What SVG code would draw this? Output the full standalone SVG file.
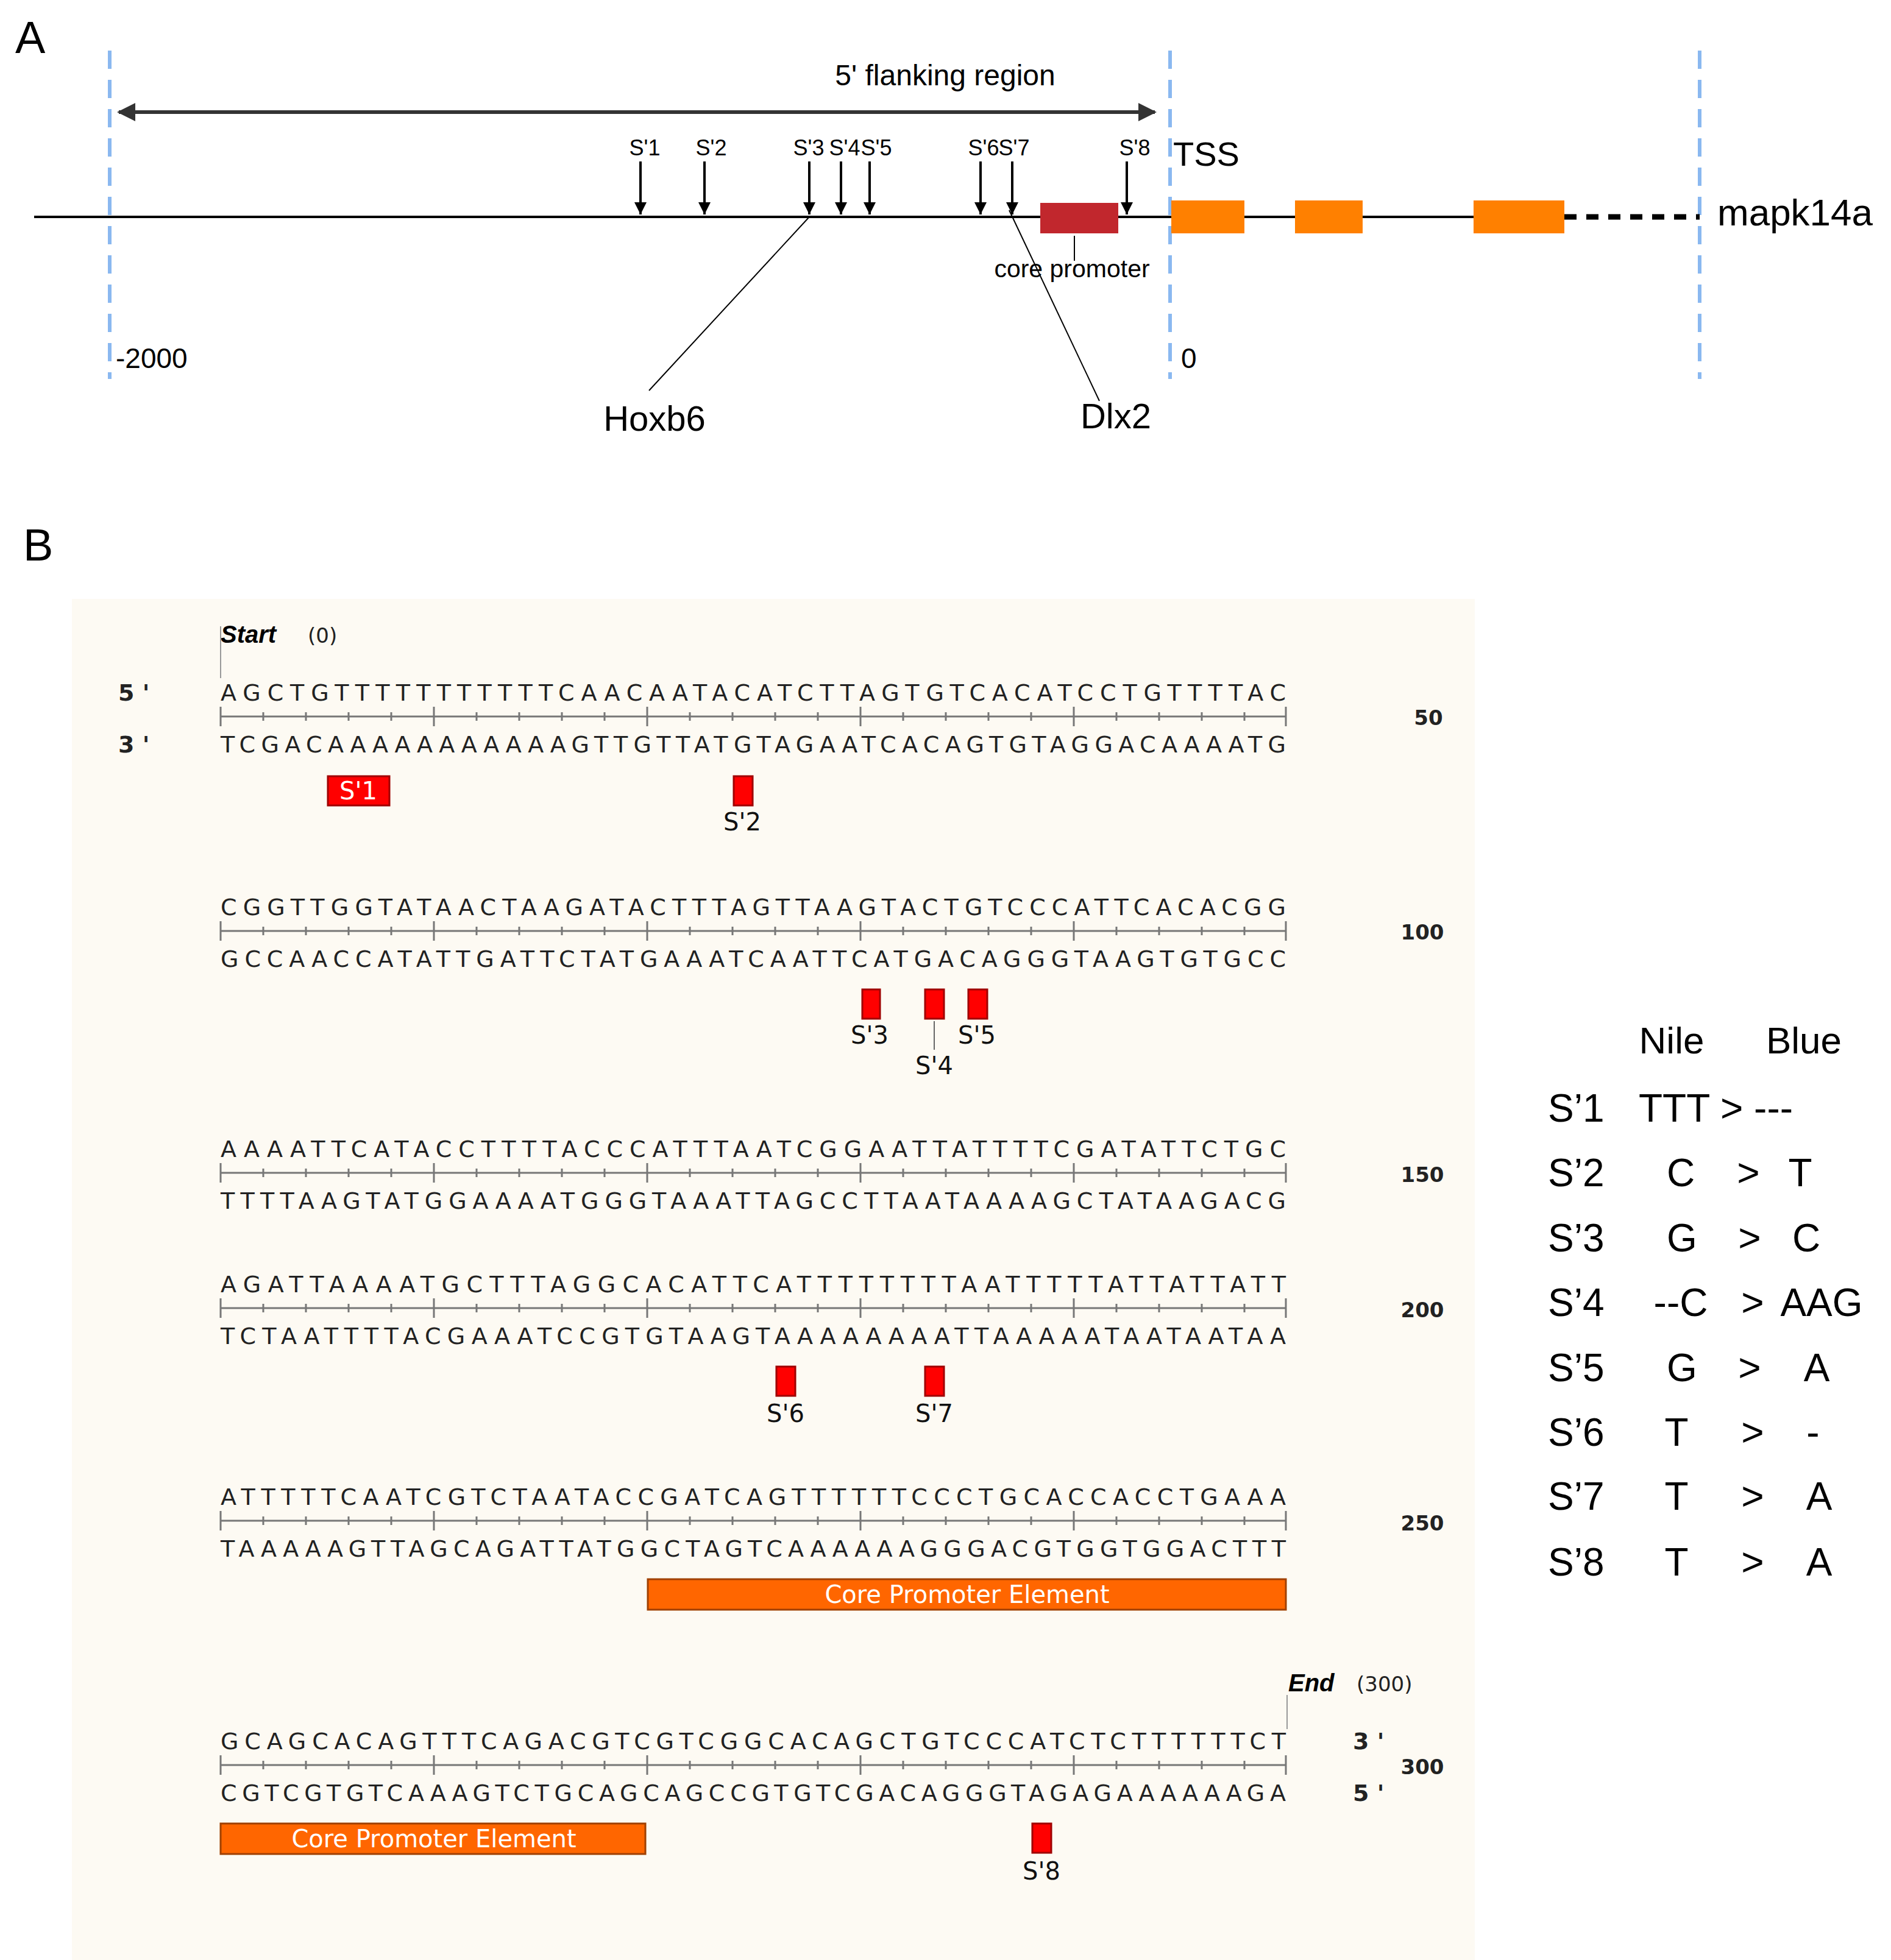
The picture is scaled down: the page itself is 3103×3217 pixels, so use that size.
<svg xmlns="http://www.w3.org/2000/svg" xmlns:xlink="http://www.w3.org/1999/xlink" width="3103" height="3217" viewBox="0 0 3103 3217">
<style>
text{font-family:"Liberation Sans",Arial,sans-serif;fill:#000}
.seq{font-family:"DejaVu Sans",Verdana,sans-serif;font-size:38px;fill:#222}
.sm{font-family:"DejaVu Sans",Verdana,sans-serif;font-size:34px;fill:#222}
.lab{font-family:"DejaVu Sans",Verdana,sans-serif;font-size:40px;fill:#111;text-anchor:middle}
.mid{text-anchor:middle}
.vd{stroke:#8AB8F0;stroke-width:6;stroke-dasharray:30,18}
.snp{fill:#FF0000;stroke:#A00000;stroke-width:3}
.cpe{fill:#FF6600;stroke:#A04000;stroke-width:3}
.arr{stroke:#000;stroke-width:4}
</style>
<defs>
<marker id="ah" viewBox="0 0 10 10" refX="10" refY="5" markerWidth="5" markerHeight="8" orient="auto" markerUnits="strokeWidth"><path d="M0,0 L10,5 L0,10z" fill="#000"/></marker>
<marker id="dh" viewBox="0 0 10 10" refX="9" refY="5" markerWidth="5" markerHeight="5" orient="auto-start-reverse" markerUnits="strokeWidth"><path d="M0,0 L10,5 L0,10z" fill="#333"/></marker>
<g id="ruler" stroke="#777" stroke-width="3" fill="none">
<path d="M362,0H2110"/>
<path d="M432,-7v14M502,-7v14M572,-7v14M642,-7v14M782,-7v14M852,-7v14M922,-7v14M992,-7v14M1132,-7v14M1202,-7v14M1272,-7v14M1342,-7v14M1482,-7v14M1552,-7v14M1622,-7v14M1692,-7v14M1832,-7v14M1902,-7v14M1972,-7v14M2042,-7v14"/>
<path d="M362,-16v32M712,-16v32M1062,-16v32M1412,-16v32M1762,-16v32M2110,-16v32"/>
</g>
</defs>
<rect width="3103" height="3217" fill="#fff"/>
<!-- Panel A -->
<text x="25" y="87" font-size="74">A</text>
<g id="guides">
<line class="vd" x1="180" y1="83" x2="180" y2="622"/>
<line class="vd" x1="1920" y1="83" x2="1920" y2="622"/>
<line class="vd" x1="2789" y1="83" x2="2789" y2="622"/>
</g>
<g id="flank">
<line x1="195" y1="184" x2="1895" y2="184" stroke="#333" stroke-width="6" marker-start="url(#dh)" marker-end="url(#dh)"/>
<text x="1551" y="140" font-size="48" class="mid">5' flanking region</text>
</g>
<g id="gene">
<line x1="56" y1="356" x2="2567" y2="356" stroke="#000" stroke-width="4"/>
<line x1="2567" y1="356" x2="2789" y2="356" stroke="#000" stroke-width="9" stroke-dasharray="20,16"/>
<rect x="1707" y="333" width="128" height="50" fill="#C1272D"/>
<rect x="1922" y="329" width="120" height="54" fill="#FF8000"/>
<rect x="2125" y="329" width="111" height="54" fill="#FF8000"/>
<rect x="2418" y="329" width="149" height="54" fill="#FF8000"/>
<text x="2818" y="370" font-size="62">mapk14a</text>
<text x="1925" y="272" font-size="56">TSS</text>
<line x1="1763" y1="387" x2="1763" y2="428" stroke="#000" stroke-width="2"/>
<text x="1759" y="455" font-size="41" class="mid">core promoter</text>
<text x="190" y="604" font-size="46">-2000</text>
<text x="1938" y="604" font-size="46">0</text>
</g>
<g id="sites">
<g class="arr" marker-end="url(#ah)">
<line x1="1051" y1="265" x2="1051" y2="352"/>
<line x1="1156" y1="265" x2="1156" y2="352"/>
<line x1="1328" y1="265" x2="1328" y2="352"/>
<line x1="1380" y1="265" x2="1380" y2="352"/>
<line x1="1427" y1="265" x2="1427" y2="352"/>
<line x1="1609" y1="265" x2="1609" y2="352"/>
<line x1="1661" y1="265" x2="1661" y2="352"/>
<line x1="1849" y1="265" x2="1849" y2="352"/>
</g>
<text x="1058" y="255" font-size="36" class="mid">S'1</text>
<text x="1167" y="255" font-size="36" class="mid">S'2</text>
<text x="1327" y="255" font-size="36" class="mid">S'3</text>
<text x="1386" y="255" font-size="36" class="mid">S'4</text>
<text x="1438" y="255" font-size="36" class="mid">S'5</text>
<text x="1614" y="255" font-size="36" class="mid">S'6</text>
<text x="1664" y="255" font-size="36" class="mid">S'7</text>
<text x="1862" y="255" font-size="36" class="mid">S'8</text>
</g>
<g id="tf">
<line x1="1328" y1="356" x2="1065" y2="641" stroke="#000" stroke-width="2"/>
<line x1="1656" y1="345" x2="1804" y2="658" stroke="#000" stroke-width="2"/>
<text x="1074" y="707" font-size="58" class="mid">Hoxb6</text>
<text x="1831" y="703" font-size="58" class="mid">Dlx2</text>
</g>
<!-- Panel B -->
<text x="38" y="920" font-size="74">B</text>
<rect x="118" y="983" width="2302" height="2234" fill="#FDFAF3"/>
<g id="seqmap">
<text x="362" y="1055" font-family="DejaVu Sans,sans-serif" font-size="40" font-weight="bold" font-style="italic" fill="#111">Start</text>
<text x="505" y="1055" class="sm">(0)</text>
<line x1="362" y1="1028" x2="362" y2="1113" stroke="#999" stroke-width="2"/>
<text x="194" y="1150" class="seq" font-weight="bold">5 '</text>
<text x="194" y="1235" class="seq" font-weight="bold">3 '</text>
<text x="362" y="1150" class="seq" textLength="1748" lengthAdjust="spacing">AGCTGTTTTTTTTTTTCAACAATACATCTTAGTGTCACATCCTGTTTTAC</text>
<use xlink:href="#ruler" y="1176"/>
<text x="362" y="1235" class="seq" textLength="1748" lengthAdjust="spacing">TCGACAAAAAAAAAAAGTTGTTATGTAGAATCACAGTGTAGGACAAAATG</text>
<text x="2344" y="1190" class="sm mid" font-weight="bold">50</text>
<text x="362" y="1502" class="seq" textLength="1748" lengthAdjust="spacing">CGGTTGGTATAACTAAGATACTTTAGTTAAGTACTGTCCCATTCACACGG</text>
<use xlink:href="#ruler" y="1528"/>
<text x="362" y="1587" class="seq" textLength="1748" lengthAdjust="spacing">GCCAACCATATTGATTCTATGAAATCAATTCATGACAGGGTAAGTGTGCC</text>
<text x="2334" y="1542" class="sm mid" font-weight="bold">100</text>
<text x="362" y="1899" class="seq" textLength="1748" lengthAdjust="spacing">AAAATTCATACCTTTTACCCATTTAATCGGAATTATTTTCGATATTCTGC</text>
<use xlink:href="#ruler" y="1925"/>
<text x="362" y="1984" class="seq" textLength="1748" lengthAdjust="spacing">TTTTAAGTATGGAAAATGGGTAAATTAGCCTTAATAAAAGCTATAAGACG</text>
<text x="2334" y="1940" class="sm mid" font-weight="bold">150</text>
<text x="362" y="2121" class="seq" textLength="1748" lengthAdjust="spacing">AGATTAAAATGCTTTAGGCACATTCATTTTTTTTAATTTTTATTATTATT</text>
<use xlink:href="#ruler" y="2147"/>
<text x="362" y="2206" class="seq" textLength="1748" lengthAdjust="spacing">TCTAATTTTACGAAATCCGTGTAAGTAAAAAAAATTAAAAATAATAATAA</text>
<text x="2334" y="2162" class="sm mid" font-weight="bold">200</text>
<text x="362" y="2470" class="seq" textLength="1748" lengthAdjust="spacing">ATTTTTCAATCGTCTAATACCGATCAGTTTTTTCCCTGCACCACCTGAAA</text>
<use xlink:href="#ruler" y="2496"/>
<text x="362" y="2555" class="seq" textLength="1748" lengthAdjust="spacing">TAAAAAGTTAGCAGATTATGGCTAGTCAAAAAAGGGACGTGGTGGACTTT</text>
<text x="2334" y="2512" class="sm mid" font-weight="bold">250</text>
<text x="2114" y="2776" font-family="DejaVu Sans,sans-serif" font-size="40" font-weight="bold" font-style="italic" fill="#111">End</text>
<text x="2226" y="2776" class="sm">(300)</text>
<line x1="2112" y1="2782" x2="2112" y2="2838" stroke="#999" stroke-width="2"/>
<text x="362" y="2871" class="seq" textLength="1748" lengthAdjust="spacing">GCAGCACAGTTTCAGACGTCGTCGGCACAGCTGTCCCATCTCTTTTTTCT</text>
<use xlink:href="#ruler" y="2897"/>
<text x="362" y="2956" class="seq" textLength="1748" lengthAdjust="spacing">CGTCGTGTCAAAGTCTGCAGCAGCCGTGTCGACAGGGTAGAGAAAAAAGA</text>
<text x="2220" y="2871" class="seq" font-weight="bold">3 '</text>
<text x="2220" y="2956" class="seq" font-weight="bold">5 '</text>
<text x="2334" y="2912" class="sm mid" font-weight="bold">300</text>
</g>
<g id="snps">
<rect class="snp" x="538" y="1274" width="101" height="48"/>
<text x="588" y="1312" class="lab" style="fill:#fff">S'1</text>
<rect class="snp" x="1204" y="1274" width="31" height="48"/>
<text x="1218" y="1363" class="lab">S'2</text>
<rect class="snp" x="1415" y="1624" width="29" height="48"/>
<text x="1427" y="1713" class="lab">S'3</text>
<rect class="snp" x="1518" y="1624" width="31" height="48"/>
<line x1="1533" y1="1676" x2="1533" y2="1723" stroke="#666" stroke-width="2"/>
<text x="1533" y="1763" class="lab">S'4</text>
<rect class="snp" x="1589" y="1624" width="31" height="48"/>
<text x="1603" y="1713" class="lab">S'5</text>
<rect class="snp" x="1274" y="2243" width="31" height="48"/>
<text x="1289" y="2334" class="lab">S'6</text>
<rect class="snp" x="1518" y="2243" width="31" height="48"/>
<text x="1533" y="2334" class="lab">S'7</text>
<rect class="snp" x="1694" y="2993" width="31" height="48"/>
<text x="1709" y="3085" class="lab">S'8</text>
</g>
<g id="cpe">
<rect class="cpe" x="1063" y="2592" width="1047" height="50"/>
<text x="1587" y="2631" class="lab" style="fill:#fff">Core Promoter Element</text>
<rect class="cpe" x="362" y="2993" width="697" height="50"/>
<text x="712" y="3032" class="lab" style="fill:#fff">Core Promoter Element</text>
</g>
<g id="table" font-size="64">
<text x="2743" y="1729" class="mid" font-size="62">Nile</text>
<text x="2960" y="1729" class="mid" font-size="62">Blue</text>
<text x="2540" y="1841" font-size="64">S’1</text><text x="2689" y="1841" font-size="64">TTT &gt; ---</text>
<text x="2540" y="1947" font-size="64">S’2</text><text x="2758" y="1947" class="mid" font-size="64">C</text><text x="2869" y="1947" class="mid" font-size="64">&gt;</text><text x="2954" y="1947" class="mid" font-size="64">T</text>
<text x="2540" y="2054" font-size="64">S’3</text><text x="2760" y="2054" class="mid" font-size="64">G</text><text x="2871" y="2054" class="mid" font-size="64">&gt;</text><text x="2964" y="2054" class="mid" font-size="64">C</text>
<text x="2540" y="2160" font-size="64">S’4</text><text x="2758" y="2160" class="mid" font-size="64">--C</text><text x="2876" y="2160" class="mid" font-size="64">&gt;</text><text x="2989" y="2160" class="mid" font-size="64">AAG</text>
<text x="2540" y="2267" font-size="64">S’5</text><text x="2760" y="2267" class="mid" font-size="64">G</text><text x="2871" y="2267" class="mid" font-size="64">&gt;</text><text x="2981" y="2267" class="mid" font-size="64">A</text>
<text x="2540" y="2373" font-size="64">S’6</text><text x="2751" y="2373" class="mid" font-size="64">T</text><text x="2876" y="2373" class="mid" font-size="64">&gt;</text><text x="2975" y="2373" class="mid" font-size="64">-</text>
<text x="2540" y="2478" font-size="64">S’7</text><text x="2751" y="2478" class="mid" font-size="64">T</text><text x="2876" y="2478" class="mid" font-size="64">&gt;</text><text x="2985" y="2478" class="mid" font-size="64">A</text>
<text x="2540" y="2586" font-size="64">S’8</text><text x="2751" y="2586" class="mid" font-size="64">T</text><text x="2876" y="2586" class="mid" font-size="64">&gt;</text><text x="2985" y="2586" class="mid" font-size="64">A</text>
</g>
</svg>
